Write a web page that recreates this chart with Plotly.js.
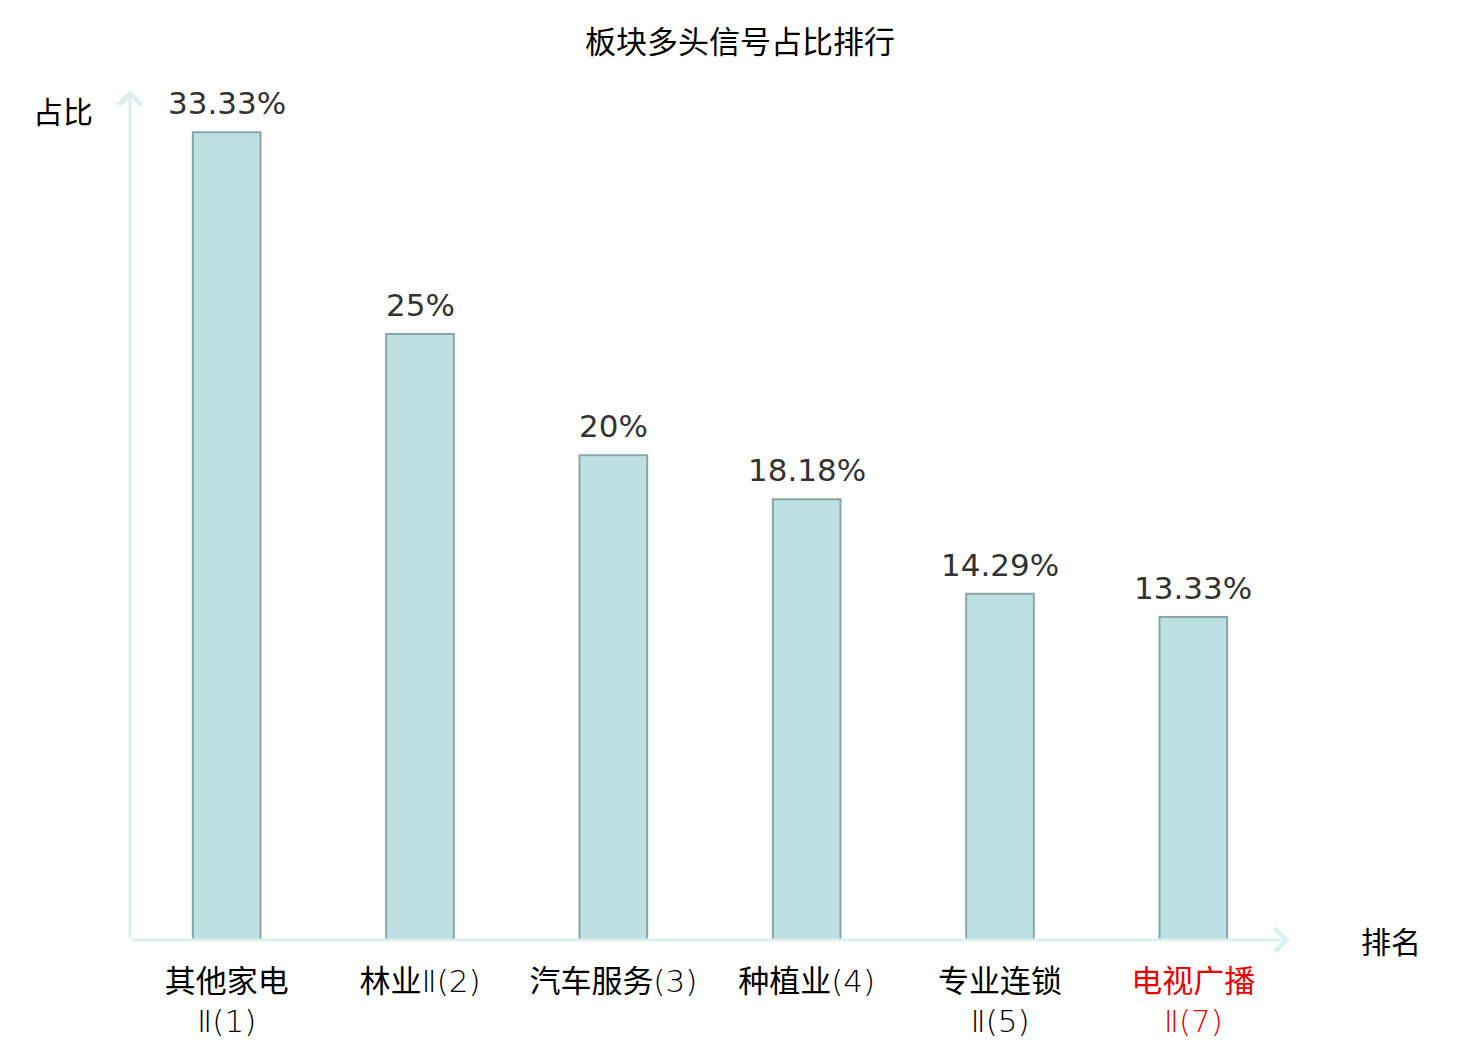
<!DOCTYPE html>
<html>
<head>
<meta charset="utf-8">
<script src="https://cdn.plot.ly/plotly-3.0.1.min.js"></script>
<style>
  html, body { margin: 0; padding: 0; background: #fff; }
  #chart { width: 1480px; height: 1040px; }
</style>
</head>
<body>
<div id="chart"></div>
<script>
// sector names, ranks and signal shares
var sectors = ['其他家电', '林业', '汽车服务', '种植业', '专业连锁', '电视广播'];
var suffixes = ['<br>Ⅱ', 'Ⅱ', '', '', '<br>Ⅱ', '<br>Ⅱ'];
var ranks = [1, 2, 3, 4, 5, 7];
var shares = [33.33, 25, 20, 18.18, 14.29, 13.33];
var shareLabels = ['33.33%', '25%', '20%', '18.18%', '14.29%', '13.33%'];
var highlightRank = 7;

var axisColor = '#dcf1ee';
var cjkFont = 'Noto Sans CJK SC';

var tickText = sectors.map(function (s, i) {
	var tail = suffixes[i].replace('Ⅱ', '<span style="font-family:DejaVu Sans;font-weight:200">Ⅱ</span>');
	var label = s + tail + '<span style="font-family:DejaVu Sans;font-weight:200">(' + ranks[i] + ')</span>';
	if (ranks[i] === highlightRank) {
		label = '<span style="color:#ee0000">' + label + '</span>';
	}
	return label;
});

var barTrace = [{
	type: 'bar',
	x: ranks.map(String),
	y: shares,
	width: 0.35,
	marker: {
		color: '#bde0e2',
		line: { color: '#88a7a7', width: 2 }
	},
	hoverinfo: 'none'
}];

// value labels above the bars (x is the category index)
var valueNotes = shares.map(function (v, i) {
	return {
		x: i, y: v, xref: 'x', yref: 'y',
		text: shareLabels[i], showarrow: false,
		xanchor: 'center', yanchor: 'bottom', yshift: 9,
		font: { family: 'DejaVu Sans', size: 31, color: '#333333' }
	};
});

function arrowNote(x, y, ax, ay) {
	return {
		xref: 'paper', yref: 'paper', x: x, y: y,
		ax: ax, ay: ay, axref: 'pixel', ayref: 'pixel',
		text: ' ', font: { size: 1 }, showarrow: true, arrowhead: 4, arrowsize: 1.5,
		arrowwidth: 3, arrowcolor: axisColor, standoff: 0, startstandoff: 0
	};
}

var layout = {
	width: 1480,
	height: 1040,
	margin: { l: 130, r: 190, t: 90, b: 100 },
	paper_bgcolor: '#ffffff',
	plot_bgcolor: '#ffffff',
	showlegend: false,
	title: {
		text: '板块多头信号占比排行',
		font: { family: cjkFont, size: 31, color: '#000000' },
		x: 0.5,
		xanchor: 'center',
		y: 0.959,
		yanchor: 'middle'
	},
	xaxis: {
		type: 'category',
		range: [-0.5, 5.5],
		tickmode: 'array',
		tickvals: ranks.map(String),
		ticktext: tickText,
		ticks: '',
		ticklabelstandoff: 20,
		showgrid: false,
		zeroline: false,
		showline: false,
		tickfont: { family: cjkFont, size: 31, color: '#000000' }
	},
	yaxis: {
		range: [0, 35.07],
		showticklabels: false,
		ticks: '',
		showgrid: false,
		zeroline: false,
		showline: false
	},
	annotations: valueNotes.concat([
		arrowNote(1, 0, -1160, 0),
		arrowNote(0, 1, 0, 850),
		{
			xref: 'paper', yref: 'paper', x: -0.058, y: 0.976,
			xanchor: 'center', yanchor: 'middle',
			text: '占比', showarrow: false,
			font: { family: cjkFont, size: 30, color: '#000000' }
		},
		{
			xref: 'paper', yref: 'paper', x: 1.087, y: 0,
			xanchor: 'center', yanchor: 'middle',
			text: '排名', showarrow: false,
			font: { family: cjkFont, size: 30, color: '#000000' }
		}
	])
};

Plotly.newPlot('chart', barTrace, layout, { staticPlot: true });
</script>
</body>
</html>
